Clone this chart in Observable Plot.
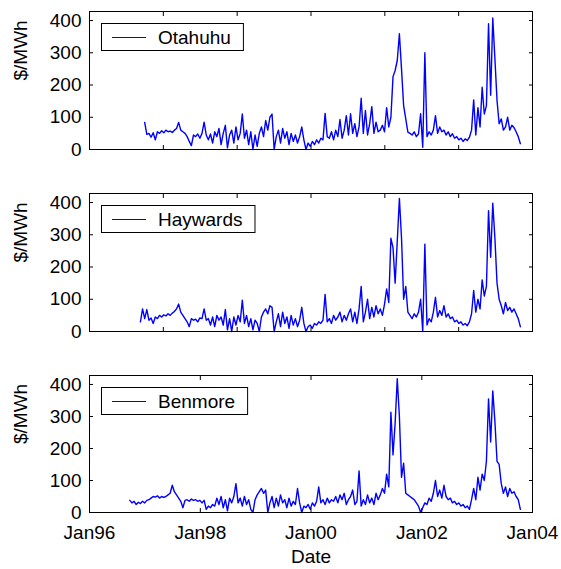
<!DOCTYPE html>
<html><head><meta charset="utf-8">
<script src="https://cdn.jsdelivr.net/npm/d3@7"></script>
<script src="https://cdn.jsdelivr.net/npm/@observablehq/plot@0.6"></script>
<style>
html,body{margin:0;padding:0;background:#fff;}
#chart svg{display:block;}
</style></head><body><div id="chart"></div>
<script>
// ---- data (fortnightly samples, starting 23 Sep 1996) ----
const stations = ["Otahuhu", "Haywards", "Benmore"];
const startDate = [1996, 8, 23];
const stepDays = 14;
const otahuhu = [
  null,null,null,null,null,null,null,84,47,50,
  38,52,30,55,50,58,52,60,55,57,
  53,60,65,84,60,55,50,40,25,12,
  45,40,48,35,50,85,45,30,48,20,
  55,40,65,15,50,75,5,45,60,20,
  70,30,50,110,35,60,15,55,0,45,
  10,50,70,40,90,60,100,110,0,40,
  60,20,65,35,55,15,50,25,45,20,
  40,70,30,0,20,10,25,15,30,20,
  35,30,112,40,35,55,30,60,40,93,
  35,60,105,45,111,50,80,40,70,159,
  50,121,45,80,133,50,85,55,60,75,
  55,130,70,100,226,245,276,359,250,136,
  95,54,50,45,55,40,48,111,7,300,
  40,55,45,60,105,50,70,55,60,45,
  55,40,49,35,40,30,35,25,33,28,
  38,60,154,45,130,70,193,110,136,390,
  168,408,282,152,80,95,60,70,100,60,
  75,68,55,40,18
];
const haywards = [
  null,null,null,null,null,30,70,40,68,35,
  42,25,45,40,50,45,52,48,55,50,
  57,62,70,85,60,50,40,30,15,40,
  35,38,30,42,40,70,35,40,20,45,
  15,50,35,45,20,68,5,40,0,45,
  20,50,30,97,25,50,15,40,5,35,
  25,0,45,60,70,55,80,75,0,30,
  55,15,60,25,45,10,50,20,40,15,
  35,75,25,0,15,20,10,25,20,30,
  25,35,115,30,40,25,50,35,45,60,
  30,50,35,55,70,30,60,25,70,140,
  30,60,100,40,75,45,80,55,70,50,
  85,132,90,289,260,150,280,413,290,100,
  140,60,50,40,55,45,60,100,0,271,
  20,40,30,60,106,45,65,50,80,45,
  55,40,45,30,35,25,30,20,25,18,
  30,55,127,60,100,70,160,110,140,375,
  230,398,290,150,100,80,55,90,65,75,
  60,70,55,40,15
];
const benmore = [
  38,30,35,25,32,28,35,30,38,40,
  45,50,48,52,45,50,47,50,55,60,
  85,65,55,45,35,15,38,40,35,42,
  38,40,35,38,30,38,10,20,15,25,
  20,45,25,50,15,40,5,45,30,50,
  90,30,45,20,50,25,40,10,0,40,
  55,65,75,60,70,0,30,50,15,45,
  20,55,30,40,15,45,20,35,25,75,
  30,0,20,15,25,10,30,20,35,80,
  30,40,25,45,30,40,35,50,30,55,
  40,60,25,40,50,70,25,35,130,20,
  40,25,55,30,45,25,60,40,55,75,
  60,120,80,313,180,280,418,300,110,154,
  60,55,50,45,40,30,20,0,15,30,
  25,45,35,60,100,50,70,45,85,50,
  40,45,30,35,25,30,20,25,15,20,
  10,40,75,40,110,70,120,100,160,355,
  220,380,285,160,150,90,60,80,50,75,
  60,65,50,40,10
];
const seriesValues = [otahuhu, haywards, benmore];
const yTicks = [0, 100, 200, 300, 400];
const xLabelTicks = ["1996-01-01", "1998-01-01", "2000-01-01", "2002-01-01", "2004-01-01"];
const xDomainText = ["1996-01-01", "2004-01-01"];
const yMax = 428;
const yLabel = "$/MWh";
const xLabel = "Date";

// ---- drawing ----
const FONT = "'Liberation Sans', Arial, Helvetica, sans-serif";
const FS = 19;
const xDomain = xDomainText.map(d => new Date(d + "T00:00:00Z"));
const xMajor = xLabelTicks.map(d => new Date(d + "T00:00:00Z"));
const xMinorTicks = d3.range(7).map(k => new Date(+xDomain[0] + k * (xDomain[1] - xDomain[0]) / 6));
const fmt = d3.utcFormat("%b%y");

const layouts = [
  {height: 171, mt: 11, mb: 22},
  {height: 182, mt: 22, mb: 22},
  {height: 216, mt: 22, mb: 57}
];
const ML = 89, MR = 29, W = 561;
const container = document.getElementById("chart");

stations.forEach((name, si) => {
  const L = layouts[si];
  const last = si === stations.length - 1;
  const data = seriesValues[si]
    .map((v, i) => ({date: new Date(Date.UTC(startDate[0], startDate[1], startDate[2] + stepDays * i)), value: v}))
    .filter(d => d.value != null);
  const xt = last ? xMajor : xMinorTicks;
  const marks = [
    Plot.line(data, {x: "date", y: "value", stroke: "#0000ff", strokeWidth: 1.4}),
    Plot.frame({stroke: "black", strokeWidth: 1}),
    Plot.axisY(yTicks, {anchor: "left", tickSize: -4, tickPadding: 12, label: null, fontSize: FS}),
    Plot.axisY(yTicks, {anchor: "right", tickSize: -4, tickFormat: () => "", label: null}),
    Plot.axisX(xt, {anchor: "top", tickSize: -4, tickFormat: () => "", label: null}),
    last
      ? Plot.axisX(xt, {anchor: "bottom", tickSize: -4, tickPadding: 17, tickFormat: fmt, label: null, fontSize: FS})
      : Plot.axisX(xt, {anchor: "bottom", tickSize: -4, tickFormat: () => "", label: null}),
    Plot.text([yLabel], {frameAnchor: "left", dx: -69, rotate: -90, fontSize: FS})
  ];
  if (last) marks.push(Plot.text([xLabel], {frameAnchor: "bottom", dy: 50, fontSize: FS}));
  const svg = Plot.plot({
    width: W, height: L.height,
    marginTop: L.mt, marginBottom: L.mb, marginLeft: ML, marginRight: MR,
    style: {fontFamily: FONT, fontSize: FS + "px", color: "black", background: "white", overflow: "visible"},
    x: {type: "utc", domain: xDomain, label: null},
    y: {domain: [0, yMax], label: null},
    marks
  });
  container.appendChild(svg);

  // legend box (MATLAB style), placed inside the top-left of the frame
  const g = d3.select(svg).append("g").attr("font-family", FONT).attr("font-size", FS)
    .attr("text-anchor", "start");
  const x0 = ML, y0 = L.mt;
  const txt = g.append("text").attr("x", x0 + 69).attr("y", y0 + 26).attr("dy", "0.35em")
    .attr("text-anchor", "start").attr("fill", "black").text(name);
  const tw = txt.node().getComputedTextLength();
  g.insert("rect", "text").attr("x", x0 + 12.5).attr("y", y0 + 12.5)
    .attr("width", 57 + tw + 12).attr("height", 27)
    .attr("fill", "white").attr("stroke", "black").attr("stroke-width", 1);
  g.append("line").attr("x1", x0 + 23).attr("x2", x0 + 57).attr("y1", y0 + 26.5).attr("y2", y0 + 26.5)
    .attr("stroke", "#0000ff").attr("stroke-width", 1);
});
</script></body></html>
